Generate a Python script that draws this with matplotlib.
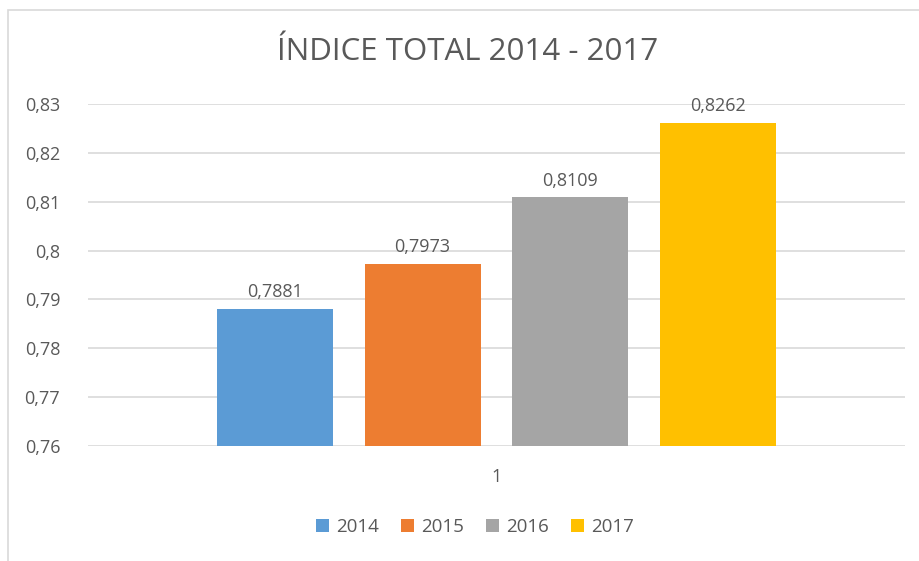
import matplotlib
matplotlib.use("Agg")
import matplotlib.pyplot as plt
from matplotlib.patches import Rectangle

years = ["2014", "2015", "2016", "2017"]
values = [0.7881, 0.7973, 0.8109, 0.8262]
value_labels = ["0,7881", "0,7973", "0,8109", "0,8262"]
colors = ["#5B9BD5", "#ED7D31", "#A5A5A5", "#FFC000"]
yticks = [0.76, 0.77, 0.78, 0.79, 0.80, 0.81, 0.82, 0.83]
ytick_labels = ["0,76", "0,77", "0,78", "0,79", "0,8", "0,81", "0,82", "0,83"]
category = ["1"]
title = "ÍNDICE TOTAL 2014 - 2017"

plt.rcParams['font.family'] = ['Open Sans', 'DejaVu Sans']
txt = "#595959"

fig = plt.figure(figsize=(9.19, 5.61), dpi=100)
fig.patches.append(Rectangle((8/919, -0.1), 1.1, (561-10)/561 + 0.1, transform=fig.transFigure,
                             fill=False, edgecolor="#D9D9D9", linewidth=1.2))
ax = fig.add_axes([88/919, 1-446/561, 817/919, (446-104)/561])

width = 0.142
offsets = [-0.2715, -0.0905, 0.0905, 0.2715]
for off, v, lab, c, y in zip(offsets, values, value_labels, colors, years):
    ax.bar(off, v - yticks[0], bottom=yticks[0], width=width, color=c, label=y, zorder=3)
    ax.text(off, v + 0.0016, lab, ha="center", va="bottom", fontsize=13, color=txt)

ax.set_ylim(yticks[0], yticks[-1])
ax.set_xlim(-0.5, 0.5)
ax.set_yticks(yticks)
ax.set_yticklabels(ytick_labels, fontsize=13, color=txt)
ax.set_xticks([0])
ax.set_xticklabels(category, fontsize=13, color=txt)
ax.tick_params(axis="both", length=0)
ax.tick_params(axis="y", pad=20)
ax.tick_params(axis="x", pad=16)
ax.grid(axis="y", color="#D9D9D9", linewidth=1.2, zorder=0)
for s in ax.spines.values():
    s.set_visible(False)

fig.text(468/919, 1-52/561, title, ha="center", va="center", fontsize=22.5, color=txt)

handles, labels = ax.get_legend_handles_labels()
fig.legend(handles, labels, loc="center", bbox_to_anchor=(475/919, 1-527/561), ncol=4,
           frameon=False, fontsize=13.5, labelcolor=txt, handlelength=0.7, handleheight=0.7,
           handletextpad=0.35, columnspacing=1.2)

fig.savefig("out.png", dpi=100)
